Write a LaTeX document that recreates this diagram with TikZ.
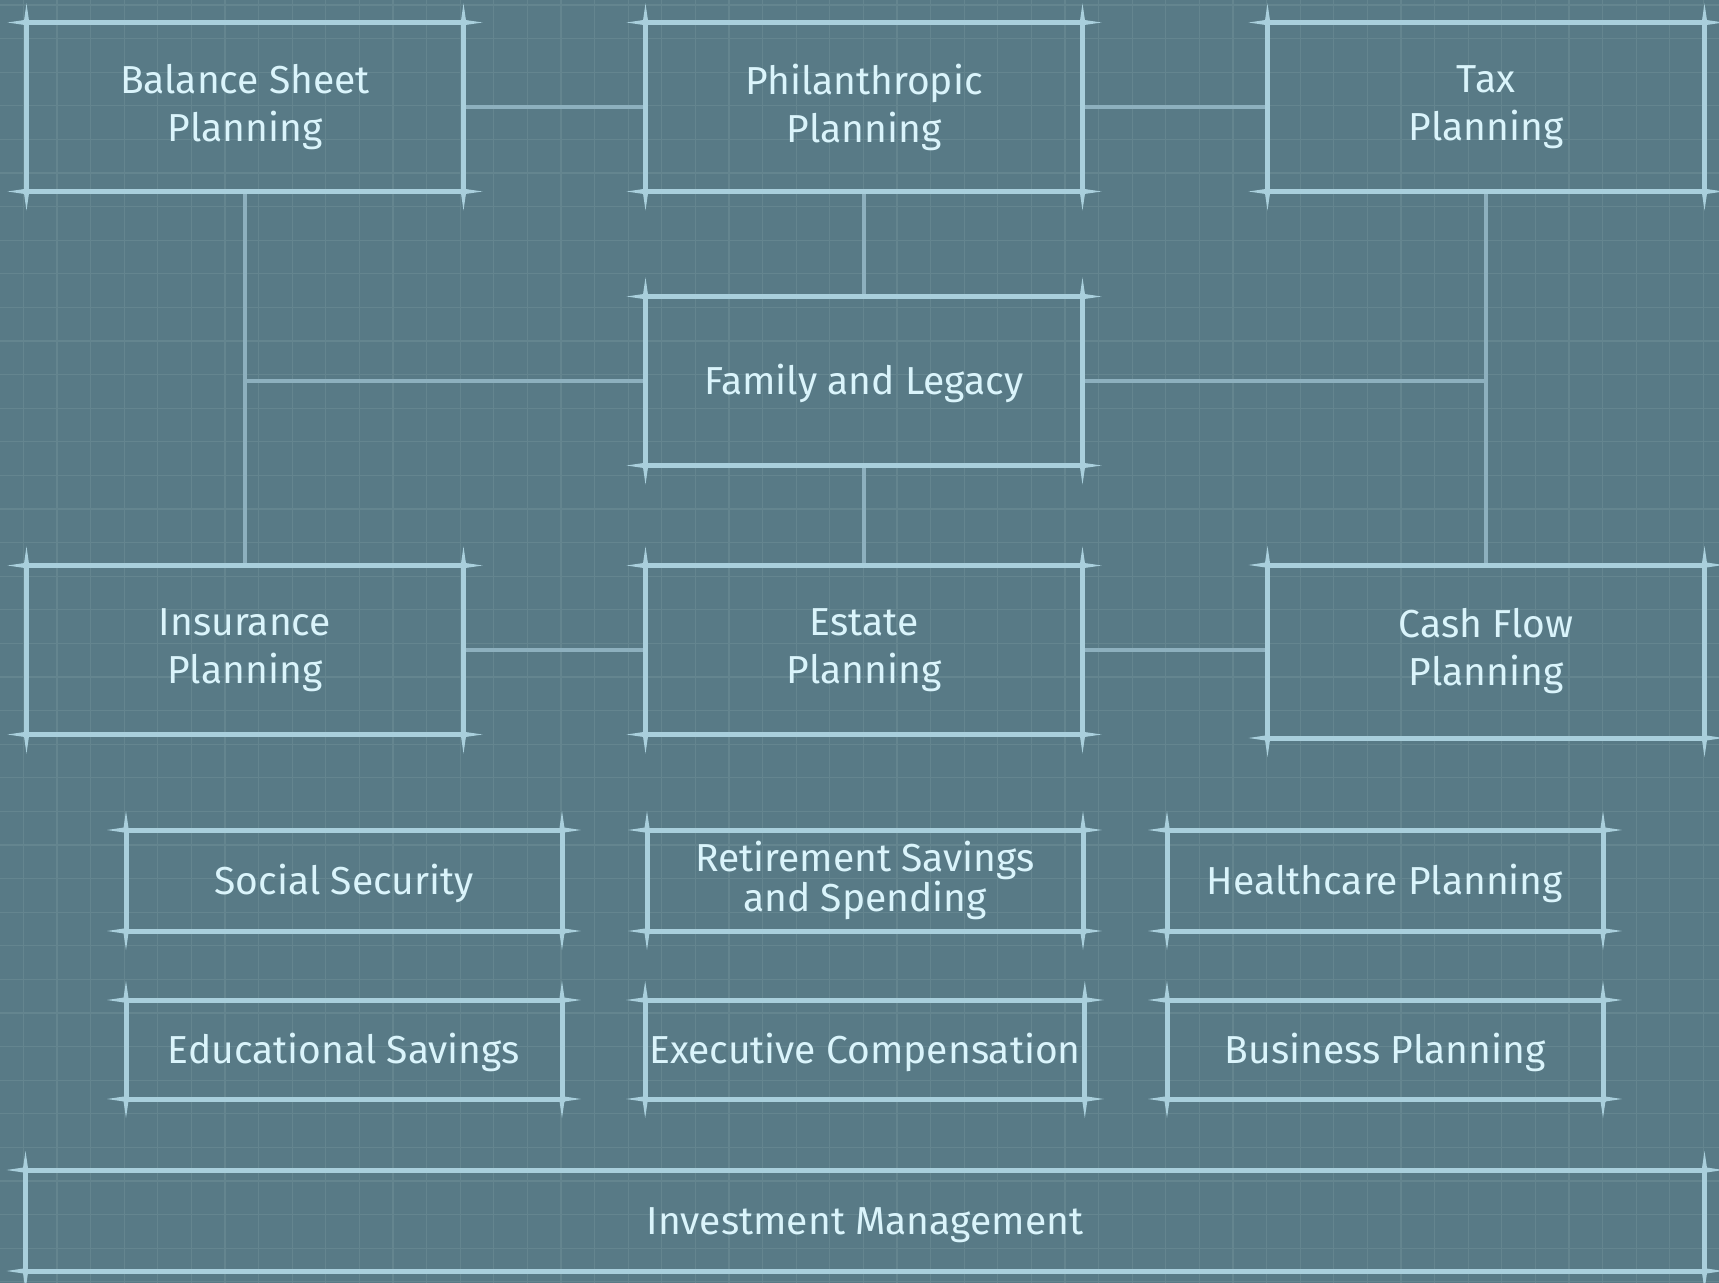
\documentclass[tikz,border=0pt]{standalone}
\usepackage{fontspec}
\setmainfont{Fira Sans}
\usetikzlibrary{backgrounds}
\definecolor{bgblue}{HTML}{587A86}
\definecolor{gridblue}{HTML}{64858F}
\definecolor{edgeblue}{HTML}{A9CFDC}
\definecolor{linkblue}{HTML}{8DB0BE}
\definecolor{textblue}{HTML}{DAF4FB}
\begin{document}
\begin{tikzpicture}[x=0.5pt,y=-0.5pt,
plan/.style={draw=edgeblue,line width=2.5pt,outer sep=0pt,inner sep=2pt,align=center,
    text=textblue,font=\fontsize{19.5}{24}\selectfont,
    execute at begin node={\rule{0pt}{18pt}}},
tall/.style={plan,minimum width=218.5pt,minimum height=84.5pt},
flat/.style={plan,minimum width=218pt,minimum height=50.5pt},
link/.style={draw=linkblue,line width=2.4pt}]
\useasboundingbox (0,0) rectangle (1719,1283);
% top row
\node[tall] (bal) at (245,107) {Balance Sheet\\Planning};
\node[tall] (phil) at (864,107) {Philanthropic\\Planning};
\node[tall] (tax) at (1486,107) {Tax\\Planning};
\node[tall] (fam) at (864,381) {Family and Legacy};
\node[tall] (ins) at (245,650) {Insurance\\Planning};
\node[tall] (est) at (864,650) {Estate\\Planning};
\node[tall,minimum height=86.5pt] (cash) at (1486,651.5) {Cash Flow\\Planning};
% small boxes
\node[flat] (soc) at (344,880.5) {Social Security};
\node[flat,font=\fontsize{19.5}{18.5}\selectfont] (ret) at (865,880.5) {Retirement Savings\\and Spending};
\node[flat] (care) at (1385,880.5) {Healthcare Planning};
\node[flat,minimum height=49.5pt] (edu) at (344,1049.5) {Educational Savings};
\node[flat,minimum height=49.5pt] (exec) at (865,1049.5) {Executive Compensation};
\node[flat,minimum height=49.5pt] (biz) at (1385,1049.5) {Business Planning};
\node[plan,minimum width=839.5pt,minimum height=50.5pt] (inv) at (865,1220.5) {Investment Management};
% corner ticks
\foreach \n in {bal,phil,tax,fam,ins,est,cash,soc,ret,care,edu,exec,biz,inv}
  \foreach \cn/\dx/\dy in {north west/-1/-1,north east/1/-1,south west/-1/1,south east/1/1}{
    \fill[edgeblue] (\n.\cn) ++(0,-2.8) -- ++(19*\dx,2.8) -- ++(-19*\dx,2.8) -- cycle;
    \fill[edgeblue] (\n.\cn) ++(-2.8,0) -- ++(2.8,19*\dy) -- ++(2.8,-19*\dy) -- cycle;
  };
\begin{scope}[on background layer]
\fill[bgblue] (0,0) rectangle (1719,1283);
\foreach \i in {0,...,50} \draw[gridblue,line width=0.6pt] ({23.3+33.6*\i},0) -- ++(0,1283);
\foreach \j in {0,...,38} \draw[gridblue,line width=0.6pt] (0,{5+33.6*\j}) -- ++(1719,0);
% links
\draw[link] (bal.east) -- (phil.west);
\draw[link] (phil.east) -- (tax.west);
\draw[link] (phil.south) -- (fam.north);
\draw[link] (fam.south) -- (est.north);
\draw[link] (ins.east) -- (est.west);
\draw[link] (est.east) -- (est.east -| cash.west);
\draw[link] (bal.south) -- (ins.north);
\draw[link] (fam.west) -- (fam.west -| bal.south);
\draw[link] (tax.south) -- (cash.north);
\draw[link] (fam.east) -- (fam.east -| tax.south);
\end{scope}
\end{tikzpicture}
\end{document}
